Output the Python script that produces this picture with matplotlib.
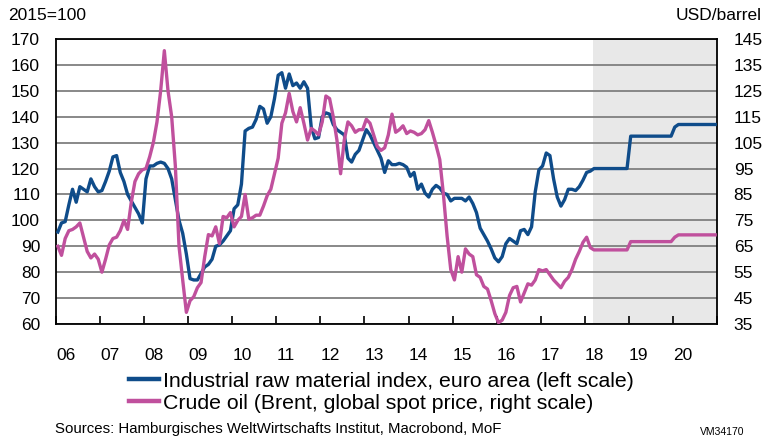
import matplotlib
matplotlib.use('Agg')
import matplotlib.pyplot as plt
from matplotlib.lines import Line2D
import numpy as np

plt.rcParams['font.family'] = ['Liberation Sans', 'DejaVu Sans']

# ---------------- data (monthly, Jan 2006 - Dec 2020) ----------------
start_year = 2006
forecast_start = 2018.19
end_year = 2021

industrial_index = [
    # 2006
    95.5, 99, 99.5, 106, 112, 107, 113, 112, 111, 116, 113, 111,
    # 2007
    111.5, 115, 119, 124.5, 125, 118.5, 115, 110, 107.5, 105, 102.5, 99,
    # 2008
    116, 121, 121, 122, 122.5, 122, 120, 116, 108, 100, 95, 87,
    # 2009
    77.5, 77, 77, 79.5, 82, 83, 85, 90, 90.5, 92, 94, 96,
    # 2010
    104.5, 106, 114, 134.5, 135.5, 136, 139, 144, 143, 137.5, 140, 147,
    # 2011
    156, 157, 151, 156.5, 152, 153, 151, 153.5, 151, 136, 131.5, 132,
    # 2012
    140, 141.5, 141, 137, 135, 134, 133, 124, 122.5, 125.5, 127, 131,
    # 2013
    135, 133, 130, 127, 124, 118.5, 123, 121.5, 121.5, 122, 121.5, 120.5,
    # 2014
    117, 118.5, 112, 114, 110.5, 109, 112, 113.5, 112.5, 110.5, 110, 107.5,
    # 2015
    108.5, 108.5, 108.5, 107.5, 109, 106.5, 103, 97, 94.5, 92, 89, 85.5,
    # 2016
    84, 86, 91, 93, 92, 91, 96, 96.5, 94.5, 97.5, 111, 119.5,
    # 2017
    121, 126, 125, 116, 109, 105.5, 108, 112, 112, 111.5, 113, 115.5,
    # 2018 (forecast from March)
    118.5, 119, 120, 120, 120, 120, 120, 120, 120, 120, 120, 120,
    # 2019 (forecast)
    132.5, 132.5, 132.5, 132.5, 132.5, 132.5, 132.5, 132.5, 132.5, 132.5, 132.5, 132.5,
    # 2020 (forecast)
    136, 137, 137, 137, 137, 137, 137, 137, 137, 137, 137, 137,
]

crude_oil = [
    # 2006
    65, 61.5, 68, 71, 71.5, 72.5, 74, 68.5, 63, 60.5, 62, 60,
    # 2007
    55, 60, 65.5, 68, 68.5, 71, 75, 71.5, 82, 90, 93, 94.5,
    # 2008
    95, 99.5, 105, 113, 125, 140.5, 125, 115, 96, 65, 52, 39.5,
    # 2009
    44, 45.5, 49, 51, 61, 69.5, 69, 72.5, 66, 76.5, 76, 78,
    # 2010
    72.5, 75, 76.5, 85, 75.5, 76, 77, 77, 80.5, 84.5, 87, 93,
    # 2011
    99, 112.5, 116.5, 124, 117, 113, 118.5, 112.5, 106, 110.5, 109.5, 108,
    # 2012
    113, 123, 122, 115, 106, 93, 106, 113, 111.5, 109, 110, 110,
    # 2013
    114, 112.5, 108, 103.5, 102, 103, 108, 116, 109, 110, 111.5, 108.5,
    # 2014
    109.5, 109, 108, 108.5, 110, 113.5, 109, 104, 98.5, 85, 69, 56,
    # 2015
    52, 61, 55, 64, 62, 61, 54, 53, 49.5, 48.5, 44, 39,
    # 2016
    35.5, 36.5, 39.5, 46, 49, 49.5, 43.5, 47, 50.5, 50, 52, 56,
    # 2017
    55.5, 56, 54, 52, 50.5, 49, 51.5, 53, 56, 60, 63, 66.5,
    # 2018 (forecast from March)
    68.5, 64.5, 63.6, 63.6, 63.6, 63.6, 63.6, 63.6, 63.6, 63.6, 63.6, 63.6,
    # 2019 (forecast)
    66.8, 66.8, 66.8, 66.8, 66.8, 66.8, 66.8, 66.8, 66.8, 66.8, 66.8, 66.8,
    # 2020 (forecast)
    68.5, 69.4, 69.4, 69.4, 69.4, 69.4, 69.4, 69.4, 69.4, 69.4, 69.4, 69.4,
]

year_labels = ['06', '07', '08', '09', '10', '11', '12', '13', '14', '15',
               '16', '17', '18', '19', '20', '']
left_ticks = [60, 70, 80, 90, 100, 110, 120, 130, 140, 150, 160, 170]
right_ticks = [35, 45, 55, 65, 75, 85, 95, 105, 115, 125, 135, 145]

label_index = 'Industrial raw material index, euro area (left scale)'
label_oil = 'Crude oil (Brent, global spot price, right scale)'

# ---------------- figure ----------------
W, H = 771, 440
fig = plt.figure(figsize=(W / 100, H / 100), dpi=100)
L, R, T, B = 56, 717, 39, 324
ax = fig.add_axes([L / W, 1 - B / H, (R - L) / W, (B - T) / H])

blue = '#0f4c8a'
magenta = '#c0509d'
grid_c = '#7f7f7f'

months = start_year + (np.arange(len(industrial_index)) + 0.5) / 12.0

ax.axvspan(forecast_start, end_year, color='#e8e8e8', zorder=0, lw=0)
ax.set_xlim(start_year, end_year)
ax.set_ylim(left_ticks[0], left_ticks[-1])
ax.set_yticks(left_ticks)
ax.set_axisbelow(True)
ax.grid(axis='y', color=grid_c, lw=1.3, zorder=0.5)
ax.tick_params(axis='y', length=0, pad=11.5, labelsize=12.5)

years = np.arange(start_year, end_year + 1)
ax.set_xticks(years)
ax.set_xticklabels(year_labels, ha='left')
ax.tick_params(axis='x', which='major', direction='in', length=6, width=1.2,
               color='black', pad=17, labelsize=12.5)
for lbl in ax.get_xticklabels():
    lbl.set_horizontalalignment('left')

for s in ax.spines.values():
    s.set_linewidth(1.3)
    s.set_color('black')

ax.plot(months, industrial_index, color=blue, lw=2.4, zorder=3,
        solid_joinstyle='round')

ax2 = ax.twinx()
ax2.set_ylim(right_ticks[0], right_ticks[-1])
ax2.set_yticks(right_ticks)
ax2.tick_params(axis='y', length=0, pad=12, labelsize=12.5)
for s in ax2.spines.values():
    s.set_visible(False)
ax2.plot(months, crude_oil, color=magenta, lw=2.4, zorder=3,
         solid_joinstyle='round')

fig.text(8 / W, 1 - 15 / H, '2015=100', fontsize=12.5, va='center', ha='left')
fig.text(762 / W, 1 - 15 / H, 'USD/barrel', fontsize=12.5, va='center',
         ha='right')

legend_kw = dict(loc='center left', frameon=False, fontsize=15.3,
                 handlelength=1.4, handletextpad=0.2, borderpad=0,
                 borderaxespad=0)
fig.legend([Line2D([], [], color=blue, lw=3.2)], [label_index],
           bbox_to_anchor=(129 / W, 1 - 381 / H), **legend_kw)
fig.legend([Line2D([], [], color=magenta, lw=3.2)], [label_oil],
           bbox_to_anchor=(129 / W, 1 - 403 / H), **legend_kw)

fig.text(55 / W, 1 - 429 / H,
         'Sources: Hamburgisches WeltWirtschafts Institut, Macrobond, MoF',
         fontsize=10.8, va='center', ha='left')
fig.text(700 / W, 1 - 432 / H, 'VM34170', fontsize=7.5, va='center', ha='left')

fig.savefig('out.png', dpi=100)
